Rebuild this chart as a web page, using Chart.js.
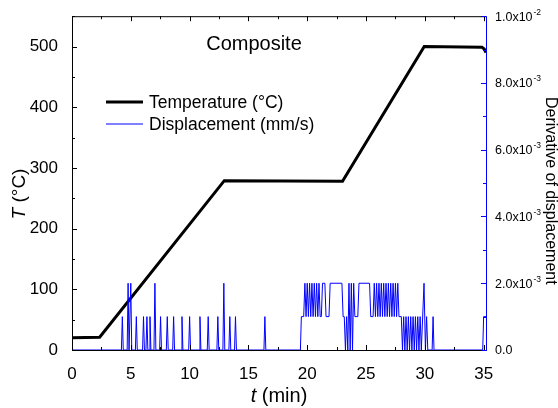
<!DOCTYPE html>
<html>
<head>
<meta charset="utf-8">
<script src="https://cdn.jsdelivr.net/npm/chart.js@4/dist/chart.umd.min.js"></script>
<style>
  html, body { margin: 0; padding: 0; background: #fff; }
  canvas { display: block; }
</style>
</head>
<body>
<canvas id="heatChart" width="558" height="408"></canvas>
<script>
// Temperature program (min, °C)
const tempTime = [0, 2.35, 12.95, 23.0, 29.95, 34.85, 35.05, 35.2];
const tempValue = [20, 21, 279, 278, 500, 499, 496, 490];

// Derivative of displacement (min, mm/s)
const dispTime = [
  0, 4.20, 4.28, 4.36, 4.69, 4.77, 4.85, 4.92, 5.00, 5.08,
  5.39, 5.47, 5.55, 6.00, 6.08, 6.16, 6.29, 6.37, 6.45, 6.55,
  6.63, 6.71, 6.97, 7.05, 7.13, 7.45, 7.53, 7.61, 8.02, 8.10,
  8.18, 8.56, 8.64, 8.72, 9.27, 9.35, 9.43, 9.92, 10.00, 10.08,
  10.80, 10.88, 10.96, 11.50, 11.58, 11.66, 12.32, 12.40, 12.48, 12.83,
  12.91, 12.99, 13.34, 13.42, 13.50, 13.82, 13.90, 13.98, 16.32, 16.40,
  16.48, 19.42, 19.50, 19.70, 19.80, 19.90, 20.00, 20.10, 20.20, 20.30,
  20.40, 20.50, 20.60, 20.70, 20.80, 20.90, 21.00, 21.10, 21.20, 21.30,
  21.50, 21.60, 21.85, 21.95, 22.95, 23.05, 23.15, 23.25, 23.35, 23.45,
  23.55, 23.65, 23.75, 23.85, 23.95, 24.05, 24.30, 24.40, 25.30, 25.40,
  25.60, 25.70, 25.80, 25.90, 26.00, 26.10, 26.20, 26.30, 26.40, 26.50,
  26.60, 26.70, 26.80, 26.90, 27.00, 27.10, 27.20, 27.30, 27.40, 27.50,
  27.60, 27.70, 27.80, 28.00, 28.10, 28.20, 28.30, 28.40, 28.50, 28.60,
  28.70, 28.80, 28.90, 29.00, 29.10, 29.20, 29.30, 29.40, 29.50, 29.60,
  29.70, 29.93, 30.05, 30.15, 30.25, 30.62, 30.70, 30.78, 34.92, 35.00,
  35.20
];
const dispValue = [
  0, 0, 0.001, 0, 0, 0.002, 0, 0, 0.002, 0,
  0, 0.001, 0, 0, 0.001, 0, 0, 0.001, 0, 0,
  0.001, 0, 0, 0.002, 0, 0, 0.001, 0, 0, 0.001,
  0, 0, 0.001, 0, 0, 0.001, 0, 0, 0.001, 0,
  0, 0.001, 0, 0, 0.001, 0, 0, 0.001, 0, 0,
  0.002, 0, 0, 0.001, 0, 0, 0.001, 0, 0, 0.001,
  0, 0, 0.001, 0.001, 0.002, 0.001, 0.002, 0.001, 0.002, 0.001,
  0.002, 0.001, 0.002, 0.001, 0.002, 0.001, 0.002, 0.001, 0.001, 0.002,
  0.002, 0.001, 0.001, 0.002, 0.002, 0.001, 0.001, 0, 0.001, 0,
  0.002, 0, 0.002, 0, 0.002, 0.001, 0.001, 0.002, 0.002, 0.001,
  0.001, 0.002, 0.001, 0.002, 0.001, 0.002, 0.001, 0.002, 0.001, 0.002,
  0.001, 0.002, 0.001, 0.002, 0.001, 0.002, 0.001, 0.002, 0.001, 0.002,
  0.001, 0.002, 0.001, 0.001, 0, 0.001, 0, 0.001, 0, 0.001,
  0, 0.001, 0, 0.001, 0, 0.001, 0, 0.001, 0, 0.001,
  0, 0.002, 0, 0.001, 0, 0, 0.001, 0, 0, 0.001,
  0.001
];

// Axis ticks
const timeTicks = [0, 5, 10, 15, 20, 25, 30, 35];
const tempTicks = [0, 100, 200, 300, 400, 500];
const dispTicks = [0, 0.002, 0.004, 0.006, 0.008, 0.01];
const dispTickLabels = [
  ['0.0', ''], ['2.0x10', '-3'], ['4.0x10', '-3'],
  ['6.0x10', '-3'], ['8.0x10', '-3'], ['1.0x10', '-2']
];

const FONT = '"Liberation Sans", Arial, sans-serif';
const BLUE = '#0000ff';

// frame, inward ticks, labels, legend and titles
const decorations = {
  id: 'decorations',
  afterDraw(chart) {
    const { ctx, chartArea: a, scales } = chart;
    const x = scales.x, y = scales.y, y2 = scales.y2;
    ctx.save();
    ctx.lineWidth = 1;
    ctx.strokeStyle = '#000';

    // box (left, top, bottom)
    ctx.beginPath();
    ctx.moveTo(a.right, a.top + 0.5);
    ctx.lineTo(a.left + 0.5, a.top + 0.5);
    ctx.lineTo(a.left + 0.5, a.bottom + 0.5);
    ctx.lineTo(a.right, a.bottom + 0.5);
    ctx.stroke();

    // x ticks on bottom and top
    ctx.beginPath();
    for (let v = 0; v <= 35; v += 2.5) {
      const px = Math.round(x.getPixelForValue(v)) + 0.5;
      const len = v % 5 === 0 ? 5 : 3;
      ctx.moveTo(px, a.bottom);
      ctx.lineTo(px, a.bottom - len);
      ctx.moveTo(px, a.top);
      ctx.lineTo(px, a.top + len);
    }
    // left y ticks
    for (let v = 0; v <= 550; v += 50) {
      const py = Math.round(y.getPixelForValue(v)) + 0.5;
      const len = v % 100 === 0 ? 5 : 3;
      ctx.moveTo(a.left, py);
      ctx.lineTo(a.left + len, py);
    }
    ctx.stroke();

    // right axis in blue
    ctx.strokeStyle = BLUE;
    ctx.beginPath();
    ctx.moveTo(a.right + 0.5, a.top);
    ctx.lineTo(a.right + 0.5, a.bottom + 1);
    for (let k = 0; k <= 10; k++) {
      const py = Math.round(y2.getPixelForValue(k * 0.001)) + 0.5;
      const len = k % 2 === 0 ? 5 : 3;
      ctx.moveTo(a.right, py);
      ctx.lineTo(a.right - len, py);
    }
    ctx.stroke();

    // right tick labels with superscript exponent
    ctx.fillStyle = '#000';
    ctx.textAlign = 'left';
    dispTicks.forEach((v, i) => {
      const py = y2.getPixelForValue(v);
      const [base, exp] = dispTickLabels[i];
      ctx.font = '12.5px ' + FONT;
      ctx.textBaseline = 'middle';
      ctx.fillText(base, a.right + 9, py + 1);
      if (exp) {
        const w = ctx.measureText(base).width;
        ctx.font = '8.5px ' + FONT;
        ctx.fillText(exp, a.right + 9 + w + 1, py - 4);
      }
    });

    // sample label
    ctx.font = '20px ' + FONT;
    ctx.textAlign = 'center';
    ctx.textBaseline = 'middle';
    ctx.fillText('Composite', 254, 44);

    // legend
    const entries = [
      { ds: chart.data.datasets[1], y: 102 },
      { ds: chart.data.datasets[0], y: 124 }
    ];
    ctx.textAlign = 'left';
    ctx.font = '17.5px ' + FONT;
    entries.forEach(e => {
      ctx.strokeStyle = e.ds.borderColor;
      ctx.lineWidth = e.ds.borderWidth;
      ctx.beginPath();
      ctx.moveTo(106, e.y);
      ctx.lineTo(143, e.y);
      ctx.stroke();
      ctx.fillStyle = '#000';
      ctx.fillText(e.ds.label, 149, e.y + 1);
    });

    // axis titles with italic symbols
    const mixed = (sym, rest, size) => {
      ctx.font = 'italic ' + size + 'px ' + FONT;
      const w1 = ctx.measureText(sym).width;
      ctx.font = size + 'px ' + FONT;
      const w2 = ctx.measureText(rest).width;
      const x0 = -(w1 + w2) / 2;
      ctx.textAlign = 'left';
      ctx.font = 'italic ' + size + 'px ' + FONT;
      ctx.fillText(sym, x0, 0);
      ctx.font = size + 'px ' + FONT;
      ctx.fillText(rest, x0 + w1, 0);
    };
    ctx.fillStyle = '#000';
    ctx.textBaseline = 'middle';

    ctx.save();
    ctx.translate(279, 396);
    mixed('t', ' (min)', 20);
    ctx.restore();

    ctx.save();
    ctx.translate(20, 194);
    ctx.rotate(-Math.PI / 2);
    mixed('T', ' (°C)', 19);
    ctx.restore();

    ctx.save();
    ctx.translate(546, 97);
    ctx.rotate(Math.PI / 2);
    ctx.textAlign = 'left';
    ctx.textBaseline = 'alphabetic';
    ctx.font = '16px ' + FONT;
    ctx.fillText('Derivative of displacement', 0, 0);
    ctx.restore();

    ctx.restore();
  }
};

new Chart(document.getElementById('heatChart'), {
  type: 'line',
  data: {
    datasets: [
      {
        label: 'Displacement (mm/s)',
        data: dispTime.map((t, i) => ({ x: t, y: dispValue[i] })),
        borderColor: BLUE,
        borderWidth: 1,
        pointRadius: 0,
        tension: 0,
        yAxisID: 'y2',
        order: 0
      },
      {
        label: 'Temperature (°C)',
        data: tempTime.map((t, i) => ({ x: t, y: tempValue[i] })),
        borderColor: '#000',
        borderWidth: 3,
        pointRadius: 0,
        tension: 0,
        yAxisID: 'y',
        order: 1
      }
    ]
  },
  options: {
    responsive: false,
    animation: false,
    devicePixelRatio: 1,
    layout: { padding: { top: 14, left: 0, right: 0, bottom: 0 } },
    plugins: {
      legend: { display: false },
      tooltip: { enabled: false }
    },
    scales: {
      x: {
        type: 'linear',
        min: 0,
        max: 35.2,
        grid: { display: false },
        border: { display: false },
        ticks: {
          color: '#000',
          font: { family: FONT, size: 17 },
          padding: 6,
          maxRotation: 0,
          autoSkip: false
        },
        afterBuildTicks(s) { s.ticks = timeTicks.map(v => ({ value: v })); },
        afterFit(s) { s.height = 58; }
      },
      y: {
        min: 0,
        max: 550,
        grid: { display: false },
        border: { display: false },
        ticks: {
          color: '#000',
          font: { family: FONT, size: 17 },
          padding: 6
        },
        afterBuildTicks(s) { s.ticks = tempTicks.map(v => ({ value: v })); },
        afterFit(s) { s.width = 72; }
      },
      y2: {
        position: 'right',
        min: 0,
        max: 0.01,
        grid: { display: false },
        border: { display: false },
        ticks: { display: false },
        afterFit(s) { s.width = 72; }
      }
    }
  },
  plugins: [decorations]
});
</script>
</body>
</html>
